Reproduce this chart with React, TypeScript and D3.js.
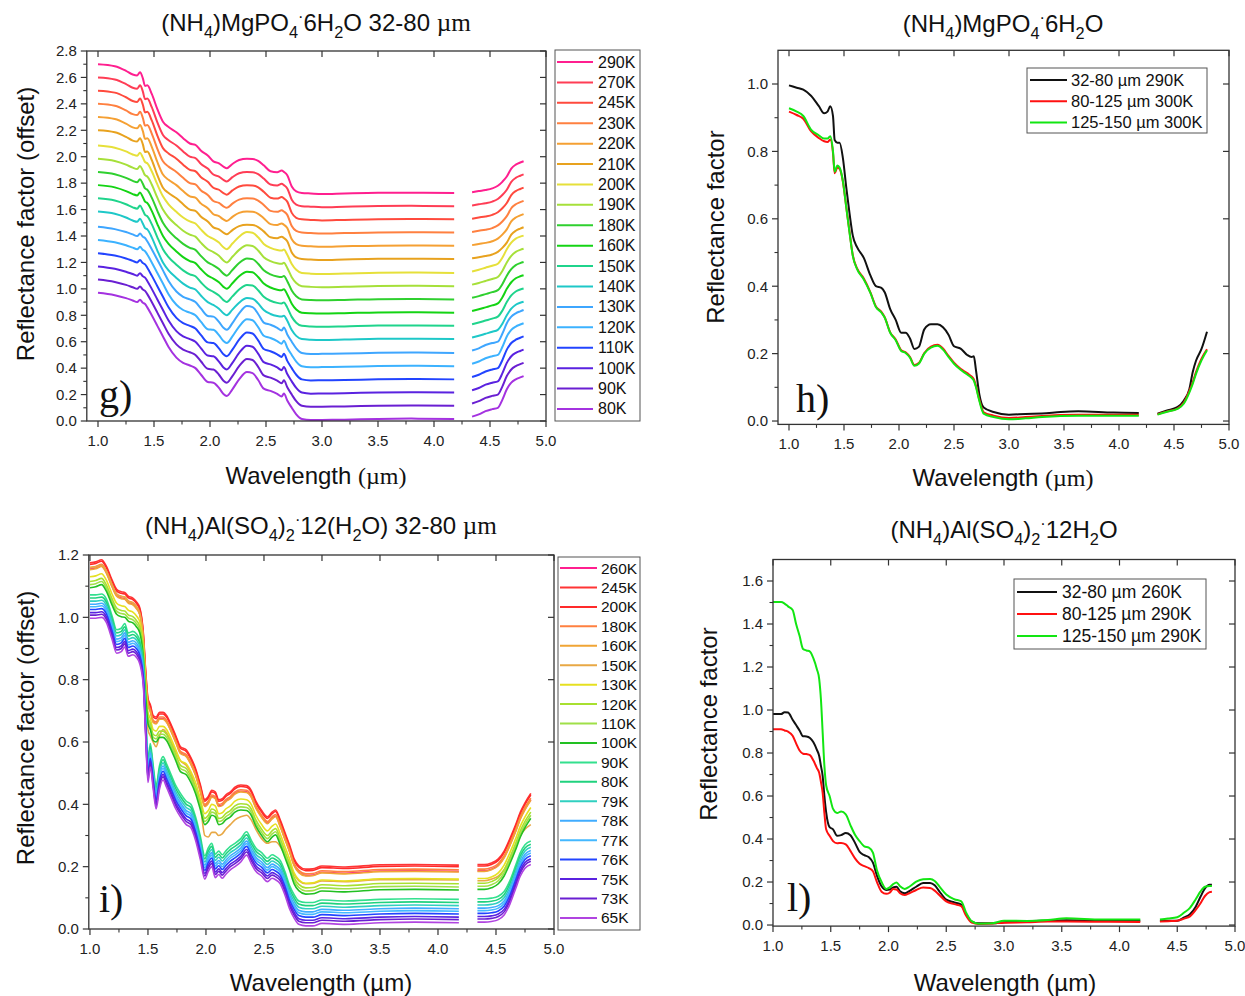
import React from 'react';
import * as d3 from 'd3';

const SANS = "'Liberation Sans', Arial, sans-serif";
const SERIF = "'Liberation Serif', 'Times New Roman', serif";

// ---------- shared ticks ----------
const xTicks = [1.0, 1.5, 2.0, 2.5, 3.0, 3.5, 4.0, 4.5, 5.0];
const xMinorTicks = [1.25, 1.75, 2.25, 2.75, 3.25, 3.75, 4.25, 4.75];
const gYTicks = [0, 0.2, 0.4, 0.6, 0.8, 1.0, 1.2, 1.4, 1.6, 1.8, 2.0, 2.2, 2.4, 2.6, 2.8];
const hYTicks = [0, 0.2, 0.4, 0.6, 0.8, 1.0];
const iYTicks = [0, 0.2, 0.4, 0.6, 0.8, 1.0, 1.2];
const lYTicks = [0, 0.2, 0.4, 0.6, 0.8, 1.0, 1.2, 1.4, 1.6];

// ---------- panel g : (NH4)MgPO4·6H2O 32-80 µm, offset spectra ----------
const gLabels = ['290K', '270K', '245K', '230K', '220K', '210K', '200K', '190K', '180K', '160K', '150K', '140K', '130K', '120K', '110K', '100K', '90K', '80K'];
const gColors = ['#ff1f8f', '#ff3d55', '#ff4a3d', '#ff8040', '#f5a033', '#e8a21e', '#e6e03a', '#a6e03a', '#2fd02f', '#14d414', '#1fd48c', '#1ec8c8', '#3ea6ff', '#3cb2ff', '#2244ff', '#5a22e0', '#6a1fd2', '#a432e0'];
const gOffsets = [1.7, 1.6, 1.5, 1.4, 1.3, 1.2, 1.1, 1.0, 0.9, 0.8, 0.7, 0.6, 0.5, 0.4, 0.3, 0.2, 0.1, 0.0];
const gShapeOf = ['high', 'high', 'high', 'high', 'high', 'high', 'mid', 'mid', 'mid', 'mid', 'mid', 'mid', 'low', 'low', 'low', 'low', 'low', 'low'];
const gWl1 = [1.0, 1.15, 1.25, 1.31, 1.35, 1.375, 1.40, 1.42, 1.44, 1.48, 1.53, 1.58, 1.63, 1.70, 1.76, 1.82, 1.87, 1.92, 1.98, 2.03, 2.08, 2.12, 2.15, 2.20, 2.26, 2.33, 2.38, 2.43, 2.48, 2.54, 2.60, 2.64, 2.66, 2.69, 2.73, 2.77, 2.82, 2.90, 3.0, 3.2, 3.5, 3.8, 4.18];
const gLow1 = [0.97, 0.952, 0.93, 0.912, 0.90, 0.918, 0.895, 0.885, 0.86, 0.80, 0.72, 0.64, 0.56, 0.48, 0.44, 0.42, 0.40, 0.35, 0.295, 0.29, 0.25, 0.205, 0.19, 0.24, 0.315, 0.37, 0.362, 0.31, 0.245, 0.228, 0.205, 0.185, 0.208, 0.155, 0.10, 0.05, 0.015, 0.007, 0.008, 0.01, 0.016, 0.018, 0.015];
const gMid1 = [0.985, 0.968, 0.94, 0.917, 0.907, 0.93, 0.895, 0.86, 0.85, 0.79, 0.69, 0.60, 0.54, 0.483, 0.44, 0.41, 0.395, 0.348, 0.30, 0.278, 0.25, 0.215, 0.20, 0.243, 0.295, 0.33, 0.325, 0.29, 0.24, 0.21, 0.194, 0.19, 0.197, 0.158, 0.088, 0.044, 0.02, 0.015, 0.013, 0.016, 0.022, 0.023, 0.02];
const gHigh1 = [1.0, 0.985, 0.95, 0.922, 0.915, 0.94, 0.895, 0.835, 0.84, 0.775, 0.66, 0.565, 0.525, 0.485, 0.44, 0.40, 0.39, 0.345, 0.31, 0.265, 0.25, 0.225, 0.213, 0.245, 0.275, 0.285, 0.283, 0.268, 0.235, 0.19, 0.183, 0.195, 0.185, 0.16, 0.075, 0.038, 0.026, 0.022, 0.018, 0.022, 0.027, 0.028, 0.026];
const gWl2 = [4.34, 4.40, 4.46, 4.52, 4.57, 4.61, 4.65, 4.69, 4.73, 4.77, 4.80];
const gLow2 = [0.033, 0.05, 0.075, 0.09, 0.10, 0.16, 0.24, 0.29, 0.315, 0.33, 0.34];
const gMid2 = [0.032, 0.045, 0.06, 0.075, 0.09, 0.135, 0.2, 0.25, 0.28, 0.295, 0.303];
const gHigh2 = [0.031, 0.04, 0.048, 0.06, 0.08, 0.11, 0.15, 0.21, 0.24, 0.256, 0.266];

// ---------- panel h : (NH4)MgPO4·6H2O grain sizes ----------
const hLabels = ['32-80 µm 290K', '80-125 µm 300K', '125-150 µm 300K'];
const pairColors = ['#111111', '#ff1010', '#12e612'];
const hWl1 = [1.0, 1.07, 1.13, 1.2, 1.27, 1.32, 1.35, 1.375, 1.40, 1.415, 1.44, 1.46, 1.49, 1.52, 1.55, 1.58, 1.62, 1.68, 1.74, 1.79, 1.84, 1.87, 1.92, 1.97, 2.02, 2.06, 2.10, 2.14, 2.18, 2.23, 2.29, 2.35, 2.40, 2.45, 2.50, 2.56, 2.62, 2.66, 2.68, 2.70, 2.73, 2.77, 2.86, 3.0, 3.15, 3.3, 3.47, 3.63, 3.95, 4.18];
const hBlack1 = [0.996, 0.989, 0.983, 0.965, 0.935, 0.913, 0.918, 0.934, 0.905, 0.834, 0.826, 0.826, 0.78, 0.695, 0.617, 0.55, 0.515, 0.484, 0.432, 0.40, 0.395, 0.382, 0.332, 0.30, 0.262, 0.262, 0.245, 0.214, 0.22, 0.272, 0.287, 0.287, 0.278, 0.256, 0.222, 0.215, 0.196, 0.19, 0.192, 0.15, 0.08, 0.04, 0.027, 0.019, 0.021, 0.022, 0.027, 0.029, 0.025, 0.024];
const hRed1 = [0.918, 0.908, 0.897, 0.86, 0.84, 0.83, 0.828, 0.835, 0.795, 0.735, 0.752, 0.748, 0.71, 0.636, 0.562, 0.492, 0.452, 0.423, 0.382, 0.34, 0.324, 0.308, 0.263, 0.242, 0.21, 0.204, 0.19, 0.166, 0.172, 0.202, 0.221, 0.226, 0.215, 0.193, 0.173, 0.155, 0.142, 0.132, 0.124, 0.104, 0.064, 0.026, 0.016, 0.009, 0.012, 0.015, 0.018, 0.019, 0.019, 0.019];
const hGreen1 = [0.928, 0.918, 0.905, 0.865, 0.848, 0.838, 0.838, 0.845, 0.80, 0.74, 0.758, 0.752, 0.712, 0.636, 0.56, 0.49, 0.45, 0.42, 0.38, 0.338, 0.322, 0.307, 0.262, 0.24, 0.208, 0.202, 0.188, 0.164, 0.17, 0.2, 0.218, 0.223, 0.212, 0.19, 0.17, 0.152, 0.138, 0.128, 0.12, 0.1, 0.06, 0.022, 0.012, 0.005, 0.008, 0.012, 0.015, 0.016, 0.016, 0.016];
const hWl2 = [4.35, 4.43, 4.53, 4.59, 4.64, 4.67, 4.70, 4.75, 4.80];
const hBlack2 = [0.022, 0.031, 0.041, 0.061, 0.095, 0.145, 0.179, 0.214, 0.265];
const hRed2 = [0.02, 0.028, 0.037, 0.055, 0.09, 0.115, 0.145, 0.185, 0.213];
const hGreen2 = [0.019, 0.027, 0.036, 0.052, 0.085, 0.11, 0.14, 0.18, 0.21];

// ---------- panel i : (NH4)Al(SO4)2·12(H2O) 32-80 µm ----------
const iLabels = ['260K', '245K', '200K', '180K', '160K', '150K', '130K', '120K', '110K', '100K', '90K', '80K', '79K', '78K', '77K', '76K', '75K', '73K', '65K'];
const iColors = ['#ff1f8f', '#ff3535', '#ff2a2a', '#ff8040', '#f0a535', '#e8a845', '#e6e020', '#a8e030', '#a0e048', '#22c022', '#33e08e', '#20d27e', '#30d0c0', '#40acff', '#44b8ff', '#2244ff', '#5a22e0', '#6a1fd2', '#b044e0'];
const iShapeOf = ['warm', 'warm', 'warm', 'warm', 'warm', 'w150', 'warm', 'warm', 'warm', 'warm', 'cold', 'cold', 'cold', 'cold', 'cold', 'cold', 'cold', 'cold', 'cold'];
const iOffsets = [-0.02, 0, -0.005, -0.015, -0.022, 0, -0.045, -0.06, -0.07, -0.08, 0.075, 0.065, 0.055, 0.045, 0.037, 0.028, 0.018, 0.01, 0];
const iWl1 = [1.0, 1.05, 1.10, 1.14, 1.19, 1.23, 1.27, 1.30, 1.33, 1.37, 1.40, 1.43, 1.46, 1.48, 1.50, 1.52, 1.545, 1.57, 1.60, 1.63, 1.66, 1.70, 1.74, 1.78, 1.83, 1.87, 1.91, 1.95, 1.99, 2.02, 2.05, 2.08, 2.11, 2.14, 2.17, 2.21, 2.25, 2.30, 2.35, 2.39, 2.43, 2.48, 2.53, 2.57, 2.60, 2.64, 2.68, 2.72, 2.76, 2.80, 2.86, 2.92, 3.0, 3.2, 3.5, 3.8, 4.18];
const iWarm1 = [1.175, 1.178, 1.185, 1.165, 1.12, 1.09, 1.082, 1.08, 1.068, 1.062, 1.05, 1.03, 0.95, 0.83, 0.74, 0.72, 0.685, 0.68, 0.695, 0.695, 0.685, 0.655, 0.62, 0.585, 0.575, 0.55, 0.515, 0.465, 0.415, 0.425, 0.445, 0.44, 0.415, 0.418, 0.43, 0.44, 0.455, 0.462, 0.46, 0.445, 0.41, 0.38, 0.36, 0.375, 0.382, 0.35, 0.31, 0.27, 0.225, 0.203, 0.192, 0.193, 0.202, 0.199, 0.206, 0.207, 0.205];
const iCold1 = [0.997, 0.997, 1.0, 0.985, 0.93, 0.885, 0.89, 0.905, 0.875, 0.88, 0.872, 0.85, 0.78, 0.62, 0.47, 0.52, 0.45, 0.385, 0.45, 0.478, 0.455, 0.42, 0.385, 0.36, 0.335, 0.325, 0.285, 0.225, 0.16, 0.185, 0.2, 0.165, 0.175, 0.163, 0.175, 0.19, 0.2, 0.215, 0.237, 0.21, 0.185, 0.17, 0.152, 0.163, 0.158, 0.145, 0.11, 0.065, 0.035, 0.015, 0.01, 0.01, 0.018, 0.015, 0.02, 0.022, 0.02];
const i150K1 = [1.16, 1.162, 1.168, 1.15, 1.105, 1.075, 1.068, 1.065, 1.052, 1.046, 1.035, 1.01, 0.92, 0.78, 0.64, 0.62, 0.60, 0.585, 0.62, 0.64, 0.63, 0.60, 0.57, 0.54, 0.525, 0.5, 0.45, 0.40, 0.30, 0.295, 0.31, 0.31, 0.30, 0.305, 0.32, 0.335, 0.35, 0.36, 0.365, 0.35, 0.32, 0.29, 0.275, 0.28, 0.28, 0.265, 0.24, 0.21, 0.175, 0.155, 0.145, 0.146, 0.154, 0.152, 0.158, 0.158, 0.157];
const iWl2 = [4.34, 4.40, 4.46, 4.52, 4.57, 4.62, 4.67, 4.71, 4.75, 4.80];
const iWarm2 = [0.207, 0.207, 0.212, 0.225, 0.25, 0.29, 0.335, 0.375, 0.405, 0.435];
const iCold2 = [0.022, 0.022, 0.024, 0.03, 0.045, 0.08, 0.13, 0.17, 0.195, 0.207];
const i150K2 = [0.155, 0.155, 0.16, 0.17, 0.19, 0.225, 0.265, 0.3, 0.32, 0.335];

// ---------- panel l : (NH4)Al(SO4)2·12H2O grain sizes ----------
const lLabels = ['32-80 µm 260K', '80-125 µm 290K', '125-150 µm 290K'];
const lWl1 = [1.0, 1.07, 1.10, 1.13, 1.17, 1.20, 1.23, 1.26, 1.29, 1.32, 1.35, 1.38, 1.40, 1.415, 1.43, 1.445, 1.46, 1.49, 1.52, 1.555, 1.59, 1.63, 1.67, 1.71, 1.75, 1.79, 1.83, 1.865, 1.90, 1.94, 1.98, 2.01, 2.04, 2.07, 2.10, 2.14, 2.18, 2.24, 2.30, 2.36, 2.40, 2.44, 2.50, 2.57, 2.63, 2.67, 2.72, 2.78, 2.9, 3.0, 3.2, 3.38, 3.54, 3.85, 4.18];
const lBlack1 = [0.981, 0.981, 0.99, 0.988, 0.955, 0.93, 0.905, 0.878, 0.877, 0.87, 0.85, 0.815, 0.786, 0.74, 0.693, 0.6, 0.525, 0.455, 0.445, 0.415, 0.418, 0.428, 0.418, 0.382, 0.34, 0.325, 0.315, 0.29, 0.23, 0.18, 0.163, 0.165, 0.175, 0.178, 0.157, 0.148, 0.158, 0.178, 0.195, 0.196, 0.185, 0.157, 0.118, 0.105, 0.095, 0.052, 0.016, 0.008, 0.008, 0.013, 0.018, 0.02, 0.022, 0.02, 0.02];
const lRed1 = [0.911, 0.911, 0.905, 0.9, 0.88, 0.845, 0.812, 0.797, 0.795, 0.79, 0.765, 0.73, 0.708, 0.665, 0.615, 0.52, 0.445, 0.415, 0.39, 0.38, 0.382, 0.375, 0.345, 0.31, 0.285, 0.274, 0.265, 0.25, 0.2, 0.155, 0.145, 0.15, 0.168, 0.165, 0.148, 0.14, 0.148, 0.163, 0.174, 0.172, 0.16, 0.14, 0.11, 0.097, 0.088, 0.045, 0.011, 0.005, 0.007, 0.011, 0.013, 0.016, 0.016, 0.015, 0.014];
const lGreen1 = [1.502, 1.502, 1.495, 1.482, 1.465, 1.40, 1.345, 1.284, 1.277, 1.272, 1.24, 1.19, 1.144, 1.05, 0.895, 0.74, 0.65, 0.60, 0.54, 0.521, 0.528, 0.515, 0.465, 0.42, 0.39, 0.366, 0.36, 0.337, 0.255, 0.2, 0.168, 0.175, 0.19, 0.198, 0.18, 0.168, 0.178, 0.202, 0.213, 0.214, 0.205, 0.18, 0.142, 0.12, 0.11, 0.06, 0.018, 0.006, 0.008, 0.02, 0.019, 0.023, 0.031, 0.026, 0.026];
const lWl2 = [4.35, 4.42, 4.50, 4.56, 4.61, 4.66, 4.70, 4.74, 4.78, 4.80];
const lBlack2 = [0.02, 0.02, 0.02, 0.035, 0.05, 0.085, 0.13, 0.17, 0.187, 0.187];
const lRed2 = [0.016, 0.018, 0.02, 0.03, 0.04, 0.07, 0.1, 0.135, 0.153, 0.155];
const lGreen2 = [0.026, 0.03, 0.036, 0.058, 0.08, 0.12, 0.155, 0.178, 0.182, 0.182];

// ---------- titles ----------
type Piece = [string, string];
const gTitle: Piece[] = [['(NH', ''], ['4', 'sub'], [')MgPO', ''], ['4', 'sub'], ['·', 'sup'], ['6H', ''], ['2', 'sub'], ['O 32-80 ', ''], ['µm', 'serif']];
const hTitle: Piece[] = [['(NH', ''], ['4', 'sub'], [')MgPO', ''], ['4', 'sub'], ['·', 'sup'], ['6H', ''], ['2', 'sub'], ['O', '']];
const iTitle: Piece[] = [['(NH', ''], ['4', 'sub'], [')Al(SO', ''], ['4', 'sub'], [')', ''], ['2', 'sub'], ['·', 'sup'], ['12(H', ''], ['2', 'sub'], ['O) 32-80 ', ''], ['µm', 'serif']];
const lTitle: Piece[] = [['(NH', ''], ['4', 'sub'], [')Al(SO', ''], ['4', 'sub'], [')', ''], ['2', 'sub'], ['·', 'sup'], ['12H', ''], ['2', 'sub'], ['O', '']];

type Seg = [number[], number[]];
interface SeriesDef { label: string; color: string; segs: Seg[]; width: number }

const addOff = (arr: number[], off: number) => arr.map(v => v + off);

const gShapes: Record<string, Seg[]> = {
  low: [[gWl1, gLow1], [gWl2, gLow2]],
  mid: [[gWl1, gMid1], [gWl2, gMid2]],
  high: [[gWl1, gHigh1], [gWl2, gHigh2]],
};
const gSeries: SeriesDef[] = gLabels.map((lab, k) => ({
  label: lab,
  color: gColors[k],
  width: 2,
  segs: gShapes[gShapeOf[k]].map(([w, v]) => [w, addOff(v, gOffsets[k])] as Seg),
}));

const iShapes: Record<string, Seg[]> = {
  warm: [[iWl1, iWarm1], [iWl2, iWarm2]],
  cold: [[iWl1, iCold1], [iWl2, iCold2]],
  w150: [[iWl1, i150K1], [iWl2, i150K2]],
};
const iSeries: SeriesDef[] = iLabels.map((lab, k) => ({
  label: lab,
  color: iColors[k],
  width: 1.6,
  segs: iShapes[iShapeOf[k]].map(([w, v]) => [w, addOff(v, iOffsets[k])] as Seg),
}));

const hSeries: SeriesDef[] = [
  { label: hLabels[0], color: pairColors[0], width: 2, segs: [[hWl1, hBlack1], [hWl2, hBlack2]] },
  { label: hLabels[1], color: pairColors[1], width: 2, segs: [[hWl1, hRed1], [hWl2, hRed2]] },
  { label: hLabels[2], color: pairColors[2], width: 2, segs: [[hWl1, hGreen1], [hWl2, hGreen2]] },
];
const lSeries: SeriesDef[] = [
  { label: lLabels[0], color: pairColors[0], width: 2, segs: [[lWl1, lBlack1], [lWl2, lBlack2]] },
  { label: lLabels[1], color: pairColors[1], width: 2, segs: [[lWl1, lRed1], [lWl2, lRed2]] },
  { label: lLabels[2], color: pairColors[2], width: 2, segs: [[lWl1, lGreen1], [lWl2, lGreen2]] },
];

function RichText({ x, y, pieces, size }: { x: number; y: number; pieces: Piece[]; size: number }) {
  let cur = 0;
  return (
    <text x={x} y={y} textAnchor="middle" fontFamily={SANS} fontSize={size} fill="#111">
      {pieces.map(([t, k], i) => {
        const target = k === 'sub' ? size * 0.3 : k === 'sup' ? -size * 0.38 : 0;
        const dy = target - cur;
        cur = target;
        const fs = k === 'sub' || k === 'sup' ? size * 0.68 : k === 'serif' ? size * 1.05 : size;
        return (
          <tspan key={i} dy={dy} fontSize={fs} fontFamily={k === 'serif' ? SERIF : SANS}>{t}</tspan>
        );
      })}
    </text>
  );
}

interface LegendDef { box: [number, number, number, number]; y0: number; step: number; lx: [number, number]; tx: number; fs: number }
interface PanelDef {
  left: number; right: number; top: number; bottom: number;
  xDomain: [number, number]; yDomain: [number, number];
  yTicks: number[]; yMinorStep: number;
  series: SeriesDef[];
  title: Piece[]; titleX: number; titleY: number; titleSize: number;
  yLabel: string; yLabelX: number; yLabelY: number;
  xLabelX: number; xLabelY: number; serifUnit: boolean;
  letter: string; letterX: number; letterY: number;
  legend: LegendDef;
}

function Panel({ p }: { p: PanelDef }) {
  const x = d3.scaleLinear().domain(p.xDomain).range([p.left, p.right]);
  const y = d3.scaleLinear().domain(p.yDomain).range([p.bottom, p.top]);
  const line = d3.line<[number, number]>().x(d => x(d[0])).y(d => y(d[1])).curve(d3.curveMonotoneX);
  const fmt = d3.format('.1f');
  const axisColor = '#333';
  const yMinor: number[] = [];
  for (let k = Math.ceil(p.yDomain[0] / p.yMinorStep - 1e-6); k * p.yMinorStep < p.yDomain[1] - 1e-6; k++) {
    const v = +(k * p.yMinorStep).toFixed(4);
    if (!p.yTicks.some(t => Math.abs(t - v) < 1e-6)) yMinor.push(v);
  }
  const lg = p.legend;
  return (
    <g>
      <RichText x={p.titleX} y={p.titleY} pieces={p.title} size={p.titleSize} />
      {p.series.map((s, si) => (
        <g key={si}>
          {s.segs.map(([w, v], j) => (
            <path key={j} d={line(w.map((wl, n) => [wl, v[n]] as [number, number])) || ''} fill="none" stroke={s.color} strokeWidth={s.width} strokeLinejoin="round" />
          ))}
        </g>
      ))}
      <rect x={p.left} y={p.top} width={p.right - p.left} height={p.bottom - p.top} fill="none" stroke={axisColor} strokeWidth={1.3} />
      {xTicks.map(t => (
        <g key={'xt' + t}>
          <line x1={x(t)} x2={x(t)} y1={p.bottom} y2={p.bottom + 6} stroke={axisColor} strokeWidth={1.2} />
          <line x1={x(t)} x2={x(t)} y1={p.top} y2={p.top + 6} stroke={axisColor} strokeWidth={1.2} />
          <text x={x(t)} y={p.bottom + 25} textAnchor="middle" fontFamily={SANS} fontSize={15} fill="#222">{fmt(t)}</text>
        </g>
      ))}
      {xMinorTicks.map(t => (
        <line key={'xm' + t} x1={x(t)} x2={x(t)} y1={p.bottom} y2={p.bottom + 3.5} stroke={axisColor} strokeWidth={1.1} />
      ))}
      {p.yTicks.map(t => (
        <g key={'yt' + t}>
          <line x1={p.left - 6} x2={p.left} y1={y(t)} y2={y(t)} stroke={axisColor} strokeWidth={1.2} />
          <line x1={p.right - 6} x2={p.right} y1={y(t)} y2={y(t)} stroke={axisColor} strokeWidth={1.2} />
          <text x={p.left - 10} y={y(t) + 5.3} textAnchor="end" fontFamily={SANS} fontSize={15} fill="#222">{fmt(t)}</text>
        </g>
      ))}
      {yMinor.map(t => (
        <line key={'ym' + t} x1={p.left - 3.5} x2={p.left} y1={y(t)} y2={y(t)} stroke={axisColor} strokeWidth={1.1} />
      ))}
      <text transform={`translate(${p.yLabelX},${p.yLabelY}) rotate(-90)`} textAnchor="middle" dominantBaseline="central" fontFamily={SANS} fontSize={24} fill="#111">{p.yLabel}</text>
      <text x={p.xLabelX} y={p.xLabelY} textAnchor="middle" fontFamily={SANS} fontSize={24} fill="#111">
        Wavelength <tspan fontFamily={p.serifUnit ? SERIF : SANS}>(µm)</tspan>
      </text>
      <text x={p.letterX} y={p.letterY} fontFamily={SERIF} fontSize={40} fill="#111">{p.letter}</text>
      <rect x={lg.box[0]} y={lg.box[1]} width={lg.box[2] - lg.box[0]} height={lg.box[3] - lg.box[1]} fill="#fff" stroke="#555" strokeWidth={1} />
      {p.series.map((s, si) => {
        const yy = lg.y0 + si * lg.step;
        return (
          <g key={'lg' + si}>
            <line x1={lg.lx[0]} x2={lg.lx[1]} y1={yy} y2={yy} stroke={s.color} strokeWidth={2} />
            <text x={lg.tx} y={yy} dominantBaseline="central" fontFamily={SANS} fontSize={lg.fs} fill="#111">{s.label}</text>
          </g>
        );
      })}
    </g>
  );
}

const panels: PanelDef[] = [
  {
    left: 86.8, right: 546, top: 51, bottom: 421, xDomain: [0.9, 5.0], yDomain: [0, 2.8],
    yTicks: gYTicks, yMinorStep: 0.1, series: gSeries,
    title: gTitle, titleX: 316, titleY: 31, titleSize: 24,
    yLabel: 'Reflectance factor (offset)', yLabelX: 25, yLabelY: 224,
    xLabelX: 316, xLabelY: 484, serifUnit: true,
    letter: 'g)', letterX: 99, letterY: 408,
    legend: { box: [555, 50, 640, 421], y0: 62, step: 20.41, lx: [557, 593], tx: 598, fs: 16 },
  },
  {
    left: 778, right: 1229, top: 50.3, bottom: 424.4, xDomain: [0.9, 5.0], yDomain: [-0.01, 1.1],
    yTicks: hYTicks, yMinorStep: 0.1, series: hSeries,
    title: hTitle, titleX: 1003, titleY: 32, titleSize: 24,
    yLabel: 'Reflectance factor', yLabelX: 715, yLabelY: 227,
    xLabelX: 1003, xLabelY: 486, serifUnit: true,
    letter: 'h)', letterX: 796, letterY: 412,
    legend: { box: [1027, 68, 1207, 133], y0: 80, step: 21.2, lx: [1030, 1067], tx: 1071, fs: 16.5 },
  },
  {
    left: 88.8, right: 554, top: 555, bottom: 929, xDomain: [0.99, 5.0], yDomain: [0, 1.2],
    yTicks: iYTicks, yMinorStep: 0.1, series: iSeries,
    title: iTitle, titleX: 321, titleY: 534, titleSize: 24,
    yLabel: 'Reflectance factor (offset)', yLabelX: 25, yLabelY: 728,
    xLabelX: 321, xLabelY: 991, serifUnit: false,
    letter: 'i)', letterX: 99, letterY: 912,
    legend: { box: [558, 557, 640, 930], y0: 568, step: 19.44, lx: [560, 597], tx: 601, fs: 15.5 },
  },
  {
    left: 773, right: 1235, top: 559.5, bottom: 926.1, xDomain: [1.0, 5.0], yDomain: [-0.005, 1.7],
    yTicks: lYTicks, yMinorStep: 0.1, series: lSeries,
    title: lTitle, titleX: 1004, titleY: 538, titleSize: 24,
    yLabel: 'Reflectance factor', yLabelX: 708, yLabelY: 724,
    xLabelX: 1005, xLabelY: 991, serifUnit: false,
    letter: 'l)', letterX: 787, letterY: 911,
    legend: { box: [1014, 579, 1206, 649], y0: 592, step: 22, lx: [1017, 1057], tx: 1062, fs: 17.5 },
  },
];

export default function App() {
  return (
    <svg width={1245} height={996} viewBox="0 0 1245 996" style={{ position: 'absolute', left: 0, top: 0, background: '#fff' }}>
      <rect x={0} y={0} width={1245} height={996} fill="#fff" />
      {panels.map((p, i) => <Panel key={i} p={p} />)}
    </svg>
  );
}
